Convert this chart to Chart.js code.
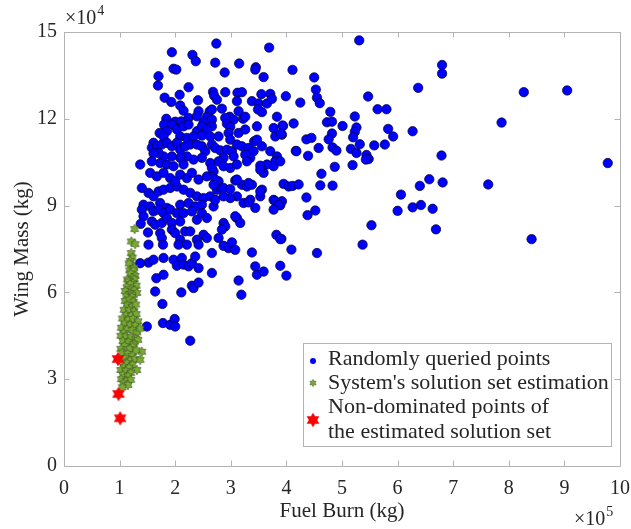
<!DOCTYPE html>
<html lang="en">
<head>
    <meta charset="UTF-8">
    <title>Wing Mass vs Fuel Burn</title>
    <script src="https://cdn.jsdelivr.net/npm/chart.js"></script>
    <style>
        html, body {
            margin: 0;
            padding: 0;
            background-color: #fff;
        }

        #wrap {
            width: 631px;
            height: 529px;
        }
    </style>
</head>
<body>
    <div id="wrap"><canvas id="scatterChart" width="631" height="529"></canvas></div>
    <script>
        // x = fuel burn in 1e5 kg, y = wing mass in 1e4 kg
        const queriedPoints = [
            [8.27,12.92],[9.05,12.98],[7.87,11.87],[9.78,10.47],[7.63,9.73],[8.41,7.84],
            [5.31,14.71],[6.80,13.86],[6.80,13.56],[6.37,13.07],[4.11,13.69],[4.50,13.43],[4.53,13.01],
            [3.99,12.78],[4.55,12.73],[4.60,12.54],[4.25,12.56],[5.47,12.77],[4.79,12.24],[5.64,12.33],
            [5.80,12.33],[5.23,12.08],[4.73,11.88],[4.82,11.90],[4.13,11.84],[3.94,11.75],[5.01,11.75],
            [5.26,11.70],[5.83,11.65],[6.27,11.57],[4.82,11.49],[5.23,11.55],[5.20,11.36],[5.92,11.39],
            [3.92,11.45],[4.36,11.29],[4.45,11.34],[4.76,11.29],[5.32,11.12],[5.58,11.08],[5.77,11.11],
            [4.58,10.99],[4.83,11.01],[4.90,10.90],[5.16,10.96],[4.17,10.89],[5.26,10.82],[4.39,10.72],
            [5.44,10.75],[5.48,10.61],[5.43,10.59],[6.79,10.73],[4.87,10.34],[5.19,10.40],
            [4.63,10.10],[3.95,9.75],[4.04,9.66],[4.11,9.68],[4.22,9.73],[4.61,9.70],[4.83,9.69],
            [4.36,9.28],[4.38,8.67],[4.52,8.83],[3.89,9.01],[6.06,9.38],[6.40,9.68],[6.57,9.91],
            [6.81,9.80],[6.00,8.82],[6.27,8.94],[6.42,9.02],[6.63,8.89],[6.69,8.18],[5.53,8.32],
            [5.37,7.65],[3.91,7.85],[4.09,7.48],[4.55,7.36],[3.89,6.92],[4.00,6.58],
            [2.74,14.60],[1.94,14.30],[2.31,14.21],[2.37,13.99],[3.69,14.46],[1.97,13.73],[2.02,13.70],
            [2.72,13.94],[3.15,13.91],[3.45,13.78],[3.44,13.70],[2.89,13.60],[1.70,13.47],[1.69,13.15],
            [3.59,13.44],[2.24,13.09],[2.68,12.93],[2.70,12.80],[2.75,12.66],[2.90,12.92],[3.12,12.90],
            [3.20,12.92],[3.11,12.61],[3.55,12.85],[3.71,12.86],[2.08,12.83],[1.81,12.73],[1.93,12.58],
            [2.41,12.64],[3.38,12.61],[3.50,12.53],[3.65,12.53],[3.74,12.69],[2.09,12.46],[2.15,12.28],
            [2.42,12.26],[2.62,12.26],[2.66,12.32],[2.84,12.35],[3.14,12.26],[2.98,12.07],[3.05,11.97],
            [3.49,12.32],[3.56,12.23],[1.84,12.00],[2.00,11.90],[2.11,11.91],[2.24,12.03],[2.39,12.09],
            [2.57,12.07],[2.51,11.88],[2.66,11.97],[2.66,11.74],[2.90,12.03],[2.93,11.83],[2.99,11.72],
            [3.22,12.00],[3.26,12.07],[3.83,12.07],[3.77,11.68],[3.93,11.77],[3.47,11.74],[1.80,11.80],
            [1.94,11.80],[2.03,11.63],[1.85,11.57],[1.72,11.51],[1.79,11.39],[2.15,11.74],[2.24,11.80],
            [2.39,11.57],[2.48,11.74],[2.57,11.63],[2.96,11.51],[2.99,11.28],[3.14,11.51],[3.26,11.63],
            [3.80,11.39],[3.90,11.48],[2.09,11.39],[2.21,11.34],[2.33,11.39],[2.48,11.42],[2.63,11.39],
            [2.78,11.39],[1.61,11.17],[1.58,11.00],[1.67,11.05],[1.76,11.11],[1.85,11.17],[1.94,11.05],
            [2.03,11.17],[2.09,10.93],[2.18,11.05],[2.27,11.11],[2.39,11.11],[2.48,11.05],[2.54,10.88],
            [2.66,11.11],[2.72,10.99],[2.81,10.91],[2.93,10.93],[3.02,10.88],[3.11,11.11],[3.20,11.05],
            [3.32,10.99],[3.42,11.22],[3.47,11.28],[3.41,10.88],[3.56,11.05],
            [3.71,10.88],[3.83,10.70],[3.80,10.53],[3.77,10.36],[3.65,10.42],[3.53,10.38],[3.35,10.65],
            [3.26,10.76],[3.05,10.70],[2.87,10.65],[2.78,10.53],[2.63,10.47],[2.48,10.65],[2.33,10.59],
            [2.21,10.70],[2.09,10.65],[1.94,10.70],[1.79,10.70],[1.70,10.82],[1.61,10.80],[1.58,10.53],
            [1.73,10.47],[1.85,10.42],[1.97,10.36],[2.15,10.42],[1.37,10.42],
            [2.87,10.36],[2.99,10.30],[3.11,10.42],[3.29,10.53],
            [1.40,9.61],[1.52,9.44],[1.61,9.32],[1.70,9.49],[1.79,9.55],[1.91,9.61],[2.03,9.66],
            [2.15,9.55],[2.27,9.44],[2.39,9.32],[2.51,9.26],[2.63,9.32],[2.75,9.55],
            [1.43,9.03],[1.55,8.97],[1.73,9.09],[1.85,8.92],[2.09,9.03],[2.24,9.09],[2.36,8.97],
            [2.48,9.03],[2.69,8.97],
            [1.55,10.13],[1.67,10.01],[1.79,10.13],[1.91,9.95],[2.00,9.84],[2.09,10.07],[2.21,9.95],
            [2.30,10.13],[2.42,9.90],[2.57,10.01],[2.69,10.18],[2.78,9.84],
            [2.66,10.30],[2.72,9.90],[2.78,9.66],[2.87,9.61],[2.99,9.57],[3.08,9.87],[3.20,9.72],
            [3.29,9.66],[3.38,9.72],[3.56,9.55],[3.59,10.13],[3.53,10.24],[3.89,10.53],[3.92,9.15],
            [3.77,9.20],[3.53,9.32],[3.35,9.20],[3.23,9.09],[3.11,9.32],[2.99,9.26],[2.87,9.32],
            [2.72,9.20],[4.18,10.88],
            [2.69,9.72],[3.11,9.90],[3.32,9.78],[3.53,9.49],[3.32,9.11],[3.44,8.92],[3.80,9.15],
            [1.40,8.86],[1.43,8.63],[1.61,8.80],[1.70,8.86],[1.79,8.74],[1.91,8.86],[2.03,8.74],
            [2.15,8.74],[2.30,8.80],[1.38,8.37],
            [1.58,8.45],[1.64,8.34],[1.76,8.40],[1.85,8.57],[1.94,8.40],[2.09,8.45],[2.39,8.51],
            [2.48,8.74],[2.57,8.57],[2.87,8.40],[2.90,8.28],[2.84,8.17],[3.11,8.57],[3.17,8.40],[3.08,8.63],
            [1.51,8.07],[1.73,8.05],[1.76,7.88],[1.94,8.17],[2.00,8.05],[2.09,7.82],[2.18,8.11],
            [2.27,8.11],[2.39,7.82],[2.42,7.65],[2.51,7.99],[2.57,7.88],[2.78,7.88],
            [2.87,7.61],[2.96,7.53],[3.02,7.73],[3.08,7.47],
            [1.52,7.65],[1.78,7.65],[2.06,7.65],[2.21,7.65],
            [2.66,7.36],[3.38,7.38],[3.82,7.99],[3.89,7.84],[3.86,9.03],[3.77,8.86],[3.44,6.90],
            [3.47,6.61],[3.59,6.72],[3.14,6.41],[3.19,5.92],
            [1.52,7.03],[1.61,7.13],[1.79,7.19],[1.97,7.13],[2.03,6.92],[2.12,7.19],[2.15,6.96],
            [2.24,6.90],[2.30,7.01],[2.36,7.24],[2.42,6.84],[2.66,6.67],[1.37,7.01],
            [1.66,6.49],[1.79,6.61],[2.30,6.23],[2.33,6.15],[2.42,6.34],[2.11,6.00],[1.64,6.03],
            [1.77,5.60],[1.49,4.82],[1.78,4.94],[1.91,4.88],[1.99,5.08],[2.00,4.82],[2.27,4.33]
        ];

        const solutionPoints = [
            [1.27,8.19],[1.21,7.76],[1.28,7.67],[1.21,7.36],[1.23,7.20],
            [1.19,7.09],[1.21,6.96],[1.17,7.00],[1.26,6.85],[1.18,6.76],[1.25,6.76],[1.20,6.65],
            [1.28,6.57],[1.22,6.49],[1.14,6.45],[1.27,6.45],[1.16,6.38],[1.24,6.32],[1.30,6.23],
            [1.19,6.28],[1.13,6.18],[1.21,6.11],[1.27,6.07],[1.10,6.05],[1.18,5.95],[1.31,5.98],
            [1.22,5.92],[1.12,5.86],[1.22,5.84],
            [1.10,5.70],[1.18,5.75],[1.25,5.68],[1.14,5.55],[1.22,5.50],[1.29,5.58],[1.08,5.40],
            [1.17,5.38],[1.26,5.35],[1.12,5.22],[1.21,5.20],[1.30,5.25],
            [1.05,5.10],[1.15,5.05],[1.24,5.08],[1.33,5.00],[1.09,4.92],[1.19,4.88],[1.28,4.85],
            [1.03,4.78],[1.13,4.72],[1.23,4.70],[1.31,4.62],[1.37,4.75],[1.07,4.60],
            [1.02,4.50],[1.11,4.48],[1.20,4.45],[1.29,4.40],[1.33,4.36],[1.06,4.32],[1.16,4.28],
            [1.25,4.22],[1.24,4.13],[1.09,4.15],[1.02,4.05],[1.18,4.05],[1.40,3.95],[1.30,4.00],
            [1.05,3.92],[1.14,3.88],[1.22,3.80],[1.10,3.72],[1.19,3.65],[1.28,3.70],[1.37,3.67],
            [1.04,3.60],[1.13,3.55],[1.23,3.50],[1.08,3.42],[1.17,3.40],[1.31,3.32],
            [1.02,3.32],[1.11,3.28],[1.20,3.22],[1.06,3.15],[1.15,3.10],[1.03,3.00],[1.12,2.95],
            [1.20,2.98],[1.07,2.85],[1.15,2.80],[1.05,2.72]
        ];

        const nonDominatedPoints = [
            [0.97,3.70],[0.98,2.49],[1.01,1.65]
        ];

        const xTicks = [0, 1, 2, 3, 4, 5, 6, 7, 8, 9, 10];
        const yTicks = [0, 3, 6, 9, 12, 15];
        const seriesLabels = [
            'Randomly queried points',
            "System's solution set estimation",
            ['Non-dominated points of', 'the estimated solution set']
        ];

        const serif = "'Liberation Serif', 'Times New Roman', serif";
        const textColor = '#262626';
        const axisColor = '#b3b3b3';

        // six-pointed star marker drawn once on a small canvas
        function makeHexagram(outer, fill, stroke, lineWidth) {
            const size = Math.ceil(outer * 2 + 2);
            const c = document.createElement('canvas');
            c.width = size;
            c.height = size;
            const g = c.getContext('2d');
            const inner = outer / Math.sqrt(3);
            g.beginPath();
            for (let i = 0; i < 12; i++) {
                const r = i % 2 === 0 ? outer : inner;
                const a = -Math.PI / 2 + i * Math.PI / 6;
                const px = size / 2 + r * Math.cos(a);
                const py = size / 2 + r * Math.sin(a);
                if (i === 0) g.moveTo(px, py); else g.lineTo(px, py);
            }
            g.closePath();
            g.fillStyle = fill;
            g.fill();
            g.lineWidth = lineWidth;
            g.strokeStyle = stroke;
            g.stroke();
            return c;
        }

        const greenStar = makeHexagram(4.8, '#77ac30', '#3d4a2a', 0.6);
        const redStar = makeHexagram(6.8, '#ff0000', '#e00000', 0.5);
        const greenStarSmall = makeHexagram(3.6, '#77ac30', '#3d4a2a', 0.5);

        function toXY(list) {
            return list.map(p => ({ x: p[0], y: p[1] }));
        }

        // box, inward ticks and exponent labels
        const framePlugin = {
            id: 'frame',
            afterDatasetsDraw(chart) {
                const { ctx, chartArea: a, scales } = chart;
                const tl = 5.5;
                ctx.save();
                ctx.strokeStyle = axisColor;
                ctx.lineWidth = 1;
                ctx.beginPath();
                ctx.rect(Math.round(a.left) + 0.5, Math.round(a.top) + 0.5,
                    Math.round(a.right - a.left), Math.round(a.bottom - a.top));
                xTicks.forEach(v => {
                    const px = Math.round(scales.x.getPixelForValue(v)) + 0.5;
                    ctx.moveTo(px, a.bottom);
                    ctx.lineTo(px, a.bottom - tl);
                    ctx.moveTo(px, a.top);
                    ctx.lineTo(px, a.top + tl);
                });
                yTicks.forEach(v => {
                    const py = Math.round(scales.y.getPixelForValue(v)) + 0.5;
                    ctx.moveTo(a.left, py);
                    ctx.lineTo(a.left + tl, py);
                    ctx.moveTo(a.right, py);
                    ctx.lineTo(a.right - tl, py);
                });
                ctx.stroke();

                ctx.fillStyle = textColor;
                ctx.textBaseline = 'alphabetic';
                ctx.textAlign = 'left';
                const drawExp = (x, y, exp) => {
                    ctx.font = '20px ' + serif;
                    ctx.fillText('\u00d710', x, y);
                    const w = ctx.measureText('\u00d710').width;
                    ctx.font = '14px ' + serif;
                    ctx.fillText(exp, x + w + 1, y - 9);
                };
                drawExp(a.left + 1, a.top - 8, '4');
                drawExp(a.right - 46, 525, '5');
                ctx.restore();
            }
        };

        // legend box inside the plot
        const legendPlugin = {
            id: 'boxLegend',
            afterDraw(chart) {
                const { ctx } = chart;
                const box = { x: 303.5, y: 343.5, w: 308, h: 103 };
                ctx.save();
                ctx.fillStyle = '#fff';
                ctx.fillRect(box.x, box.y, box.w, box.h);
                ctx.strokeStyle = axisColor;
                ctx.lineWidth = 1;
                ctx.strokeRect(box.x, box.y, box.w, box.h);

                ctx.font = '22px ' + serif;
                ctx.fillStyle = textColor;
                ctx.textBaseline = 'middle';
                ctx.textAlign = 'left';
                const textX = 328;
                const mx = 313;

                // entry 1: blue dot
                ctx.beginPath();
                ctx.arc(mx, 361, 3, 0, Math.PI * 2);
                ctx.fillStyle = '#0000ff';
                ctx.fill();
                ctx.fillStyle = textColor;
                ctx.fillText(seriesLabels[0], textX, 359);

                // entry 2: green star
                ctx.drawImage(greenStarSmall, mx - greenStarSmall.width / 2, 383 - greenStarSmall.height / 2);
                ctx.fillText(seriesLabels[1], textX, 383);

                // entry 3: red star, two lines
                ctx.drawImage(redStar, mx - redStar.width / 2, 420 - redStar.height / 2);
                ctx.fillText(seriesLabels[2][0], textX, 407);
                ctx.fillText(seriesLabels[2][1], textX, 432);
                ctx.restore();
            }
        };

        const tickFont = { family: serif, size: 20 };
        const titleFont = { family: serif, size: 21 };

        new Chart(document.getElementById('scatterChart'), {
            type: 'scatter',
            data: {
                datasets: [
                    {
                        label: seriesLabels[0],
                        data: toXY(queriedPoints),
                        pointStyle: 'circle',
                        pointRadius: 4.7,
                        backgroundColor: '#0000ff',
                        borderColor: '#00002a',
                        borderWidth: 0.7,
                        order: 3
                    },
                    {
                        label: seriesLabels[1],
                        data: toXY(solutionPoints),
                        pointStyle: greenStar,
                        order: 2
                    },
                    {
                        label: seriesLabels[2].join(' '),
                        data: toXY(nonDominatedPoints),
                        pointStyle: redStar,
                        order: 1
                    }
                ]
            },
            options: {
                responsive: false,
                animation: false,
                events: [],
                layout: { padding: { top: 32, right: 11, left: 0, bottom: 0 } },
                plugins: {
                    legend: { display: false },
                    tooltip: { enabled: false }
                },
                scales: {
                    x: {
                        type: 'linear',
                        min: 0,
                        max: 10,
                        afterBuildTicks: s => { s.ticks = xTicks.map(v => ({ value: v })); },
                        afterFit: s => {
                            s.height = 63;
                            s.paddingLeft = 0;
                            s.paddingRight = 0;
                        },
                        grid: { display: false, drawTicks: false },
                        border: { display: false },
                        ticks: { font: tickFont, color: textColor, padding: 11, maxRotation: 0, autoSkip: false },
                        title: {
                            display: true,
                            text: 'Fuel Burn (kg)',
                            font: titleFont,
                            color: textColor,
                            padding: { top: 0, bottom: 5 }
                        }
                    },
                    y: {
                        type: 'linear',
                        min: 0,
                        max: 15,
                        afterBuildTicks: s => { s.ticks = yTicks.map(v => ({ value: v })); },
                        afterFit: s => {
                            s.width = 64;
                            s.paddingTop = 0;
                            s.paddingBottom = 0;
                        },
                        grid: { display: false, drawTicks: false },
                        border: { display: false },
                        ticks: { font: tickFont, color: textColor, padding: 7, autoSkip: false },
                        title: {
                            display: true,
                            text: 'Wing Mass (kg)',
                            font: titleFont,
                            color: textColor,
                            padding: { top: 10, bottom: 0 }
                        }
                    }
                }
            },
            plugins: [framePlugin, legendPlugin]
        });
    </script>
</body>
</html>
